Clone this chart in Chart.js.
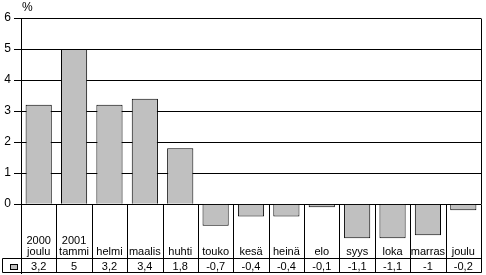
<!DOCTYPE html>
<html>
<head>
<meta charset="utf-8">
<script src="https://cdn.jsdelivr.net/npm/chart.js@4/dist/chart.umd.min.js"></script>
<style>
  html, body { margin: 0; padding: 0; background: #fff; }
  canvas { display: block; }
</style>
</head>
<body>
<canvas id="chart" width="486" height="275"></canvas>
<script>
// months, 2000 joulu .. 2001 joulu
var categories = [['2000', 'joulu'], ['2001', 'tammi'], 'helmi', 'maalis', 'huhti', 'touko', 'kesä', 'heinä', 'elo', 'syys', 'loka', 'marras', 'joulu'];
var values = [3.2, 5, 3.2, 3.4, 1.8, -0.7, -0.4, -0.4, -0.1, -1.1, -1.1, -1, -0.2];
var yTicks = [0, 1, 2, 3, 4, 5, 6];

var FONT = '"Liberation Sans", Arial, sans-serif';

function fmt(v) {
  return String(v).replace('.', ',');
}

// draws the data table under the zero line + frame bits
var tablePlugin = {
  id: 'tablePlugin',
  afterDatasetsDraw: function(chart) {
    var ctx = chart.ctx;
    var area = chart.chartArea;
    var x = chart.scales.x;
    var y = chart.scales.y;
    var zero = Math.round(y.getPixelForValue(0)) + 0.5;
    var bottom = Math.round(area.bottom) - 0.5;
    var rowTop = bottom - 14;
    var right = Math.round(area.right) + 0.5;
    var n = categories.length;
    var step = (area.right - area.left) / n;

    ctx.save();
    ctx.strokeStyle = '#000';
    ctx.lineWidth = 1;
    ctx.beginPath();
    // right frame above zero
    ctx.moveTo(right, Math.round(area.top) + 0.5);
    ctx.lineTo(right, zero);
    // separators
    for (var i = 1; i <= n; i++) {
      var sx = Math.round(area.left + i * step) + 0.5;
      ctx.moveTo(sx, zero);
      ctx.lineTo(sx, bottom);
    }
    // value row
    ctx.moveTo(2.5, rowTop);
    ctx.lineTo(right, rowTop);
    ctx.moveTo(2.5, bottom);
    ctx.lineTo(right, bottom);
    ctx.moveTo(2.5, rowTop);
    ctx.lineTo(2.5, bottom);
    ctx.stroke();

    // legend key
    ctx.fillStyle = '#c0c0c0';
    ctx.fillRect(10, rowTop + 6.5, 7, 5);
    ctx.strokeRect(10.5, rowTop + 6, 7, 5);

    ctx.fillStyle = '#000';
    ctx.font = '11px ' + FONT;
    ctx.textAlign = 'center';
    ctx.textBaseline = 'middle';
    for (var j = 0; j < n; j++) {
      var cx = x.getPixelForValue(j);
      var lab = categories[j];
      if (Array.isArray(lab)) {
        ctx.fillText(lab[0], cx, rowTop - 18);
        ctx.fillText(lab[1], cx, rowTop - 7);
      } else {
        ctx.fillText(lab, cx, rowTop - 7);
      }
      ctx.fillText(fmt(values[j]), cx, rowTop + 8.5);
    }

    // unit
    ctx.textAlign = 'left';
    ctx.font = '12px ' + FONT;
    ctx.fillText('%', area.left + 1, area.top - 10);
    ctx.restore();
  }
};

var ctx = document.getElementById('chart').getContext('2d');
var myChart = new Chart(ctx, {
  type: 'bar',
  data: {
    labels: categories,
    datasets: [{
      data: values,
      backgroundColor: '#c0c0c0',
      borderColor: '#000',
      borderWidth: 1,
      barPercentage: 0.74,
      categoryPercentage: 1
    }]
  },
  options: {
    responsive: false,
    animation: false,
    devicePixelRatio: 1,
    layout: { padding: { left: 0, right: 5, top: 18, bottom: 2 } },
    plugins: {
      legend: { display: false },
      tooltip: { enabled: false }
    },
    scales: {
      x: {
        display: false,
        offset: true
      },
      y: {
        min: -2.22,
        max: 6,
        afterBuildTicks: function(scale) {
          scale.ticks = yTicks.map(function(v) { return { value: v }; });
        },
        afterFit: function(scale) {
          scale.width = 21;
          scale.paddingTop = 0;
          scale.paddingBottom = 0;
        },
        border: { color: '#000', width: 1 },
        grid: {
          color: '#000',
          lineWidth: 1,
          drawTicks: true,
          tickLength: 7,
          tickColor: '#000'
        },
        ticks: {
          color: '#000',
          padding: 3,
          font: { family: FONT, size: 12 }
        }
      }
    }
  },
  plugins: [tablePlugin]
});
</script>
</body>
</html>
